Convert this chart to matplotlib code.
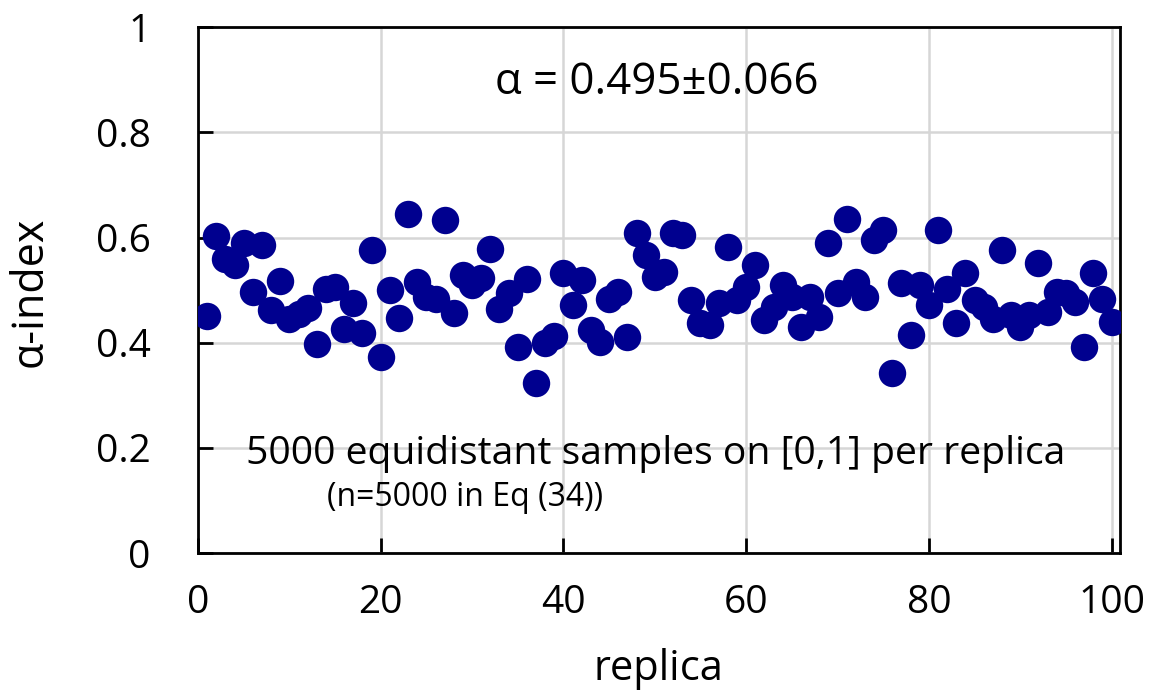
import numpy as np
import matplotlib.pyplot as plt

# alpha-index per replica
replica = np.arange(1, 101)
alpha_index = [
    0.451, 0.603, 0.560, 0.548, 0.589, 0.497, 0.586, 0.462, 0.518, 0.446,
    0.455, 0.466, 0.397, 0.503, 0.506, 0.427, 0.476, 0.418, 0.576, 0.372,
    0.500, 0.447, 0.644, 0.516, 0.487, 0.484, 0.633, 0.456, 0.528, 0.510,
    0.524, 0.579, 0.465, 0.494, 0.392, 0.522, 0.323, 0.399, 0.413, 0.532,
    0.471, 0.519, 0.424, 0.402, 0.484, 0.497, 0.411, 0.608, 0.567, 0.525,
    0.535, 0.608, 0.605, 0.481, 0.437, 0.433, 0.475, 0.582, 0.481, 0.506,
    0.548, 0.443, 0.468, 0.510, 0.487, 0.430, 0.487, 0.449, 0.589, 0.494,
    0.636, 0.516, 0.487, 0.595, 0.614, 0.342, 0.513, 0.414, 0.510, 0.471,
    0.614, 0.503, 0.438, 0.532, 0.481, 0.468, 0.446, 0.577, 0.452, 0.430,
    0.452, 0.551, 0.459, 0.497, 0.494, 0.478, 0.392, 0.532, 0.484, 0.440,
]

x_ticks = [0, 20, 40, 60, 80, 100]
y_ticks = [0, 0.2, 0.4, 0.6, 0.8, 1]
y_tick_labels = ["0", "0.2", "0.4", "0.6", "0.8", "1"]

FONTE = ["Open Sans", "DejaVu Sans"]

fig = plt.figure(figsize=(11.58, 7), dpi=100)
ax = fig.add_axes([0.171, 0.21, 0.796, 0.751])

ax.scatter(replica, alpha_index, s=390, color="#00008f", zorder=3, linewidths=0)

ax.set_xlim(0, 100.9)
ax.set_ylim(0, 1)
ax.set_xticks(x_ticks)
ax.set_yticks(y_ticks)
ax.set_yticklabels(y_tick_labels)
ax.grid(True, color="#d6d6d6", linewidth=1.8, zorder=0)
ax.set_axisbelow(True)

for lado in ["left", "bottom", "right", "top"]:
    ax.spines[lado].set_linewidth(2)
    ax.spines[lado].set_color("black")

ax.tick_params(axis="both", direction="in", length=11, width=2,
               labelsize=28, colors="black")
ax.tick_params(axis="y", pad=34)
ax.tick_params(axis="x", pad=22)
for lbl in ax.get_xticklabels() + ax.get_yticklabels():
    lbl.set_family(FONTE)

ax.set_xlabel("replica", fontsize=30, family=FONTE)
ax.xaxis.set_label_coords(0.5, -0.22)
ax.xaxis.label.set_va("center")

ax.set_ylabel("\u03b1-index", fontsize=31, family=FONTE)
ax.yaxis.set_label_coords(-0.182, 0.496)
ax.yaxis.label.set_va("center")

ax.text(50.2, 0.894, "\u03b1 = 0.495\u00b10.066", fontsize=31.5, family=FONTE,
        ha="center", va="center")
ax.text(5.3, 0.188, "5000 equidistant samples on [0,1] per replica",
        fontsize=28.2, family=FONTE, ha="left", va="center")
ax.text(14.1, 0.105, "(n=5000 in Eq (34))", fontsize=23, family=FONTE,
        ha="left", va="center")

fig.savefig("out.png", dpi=100)
